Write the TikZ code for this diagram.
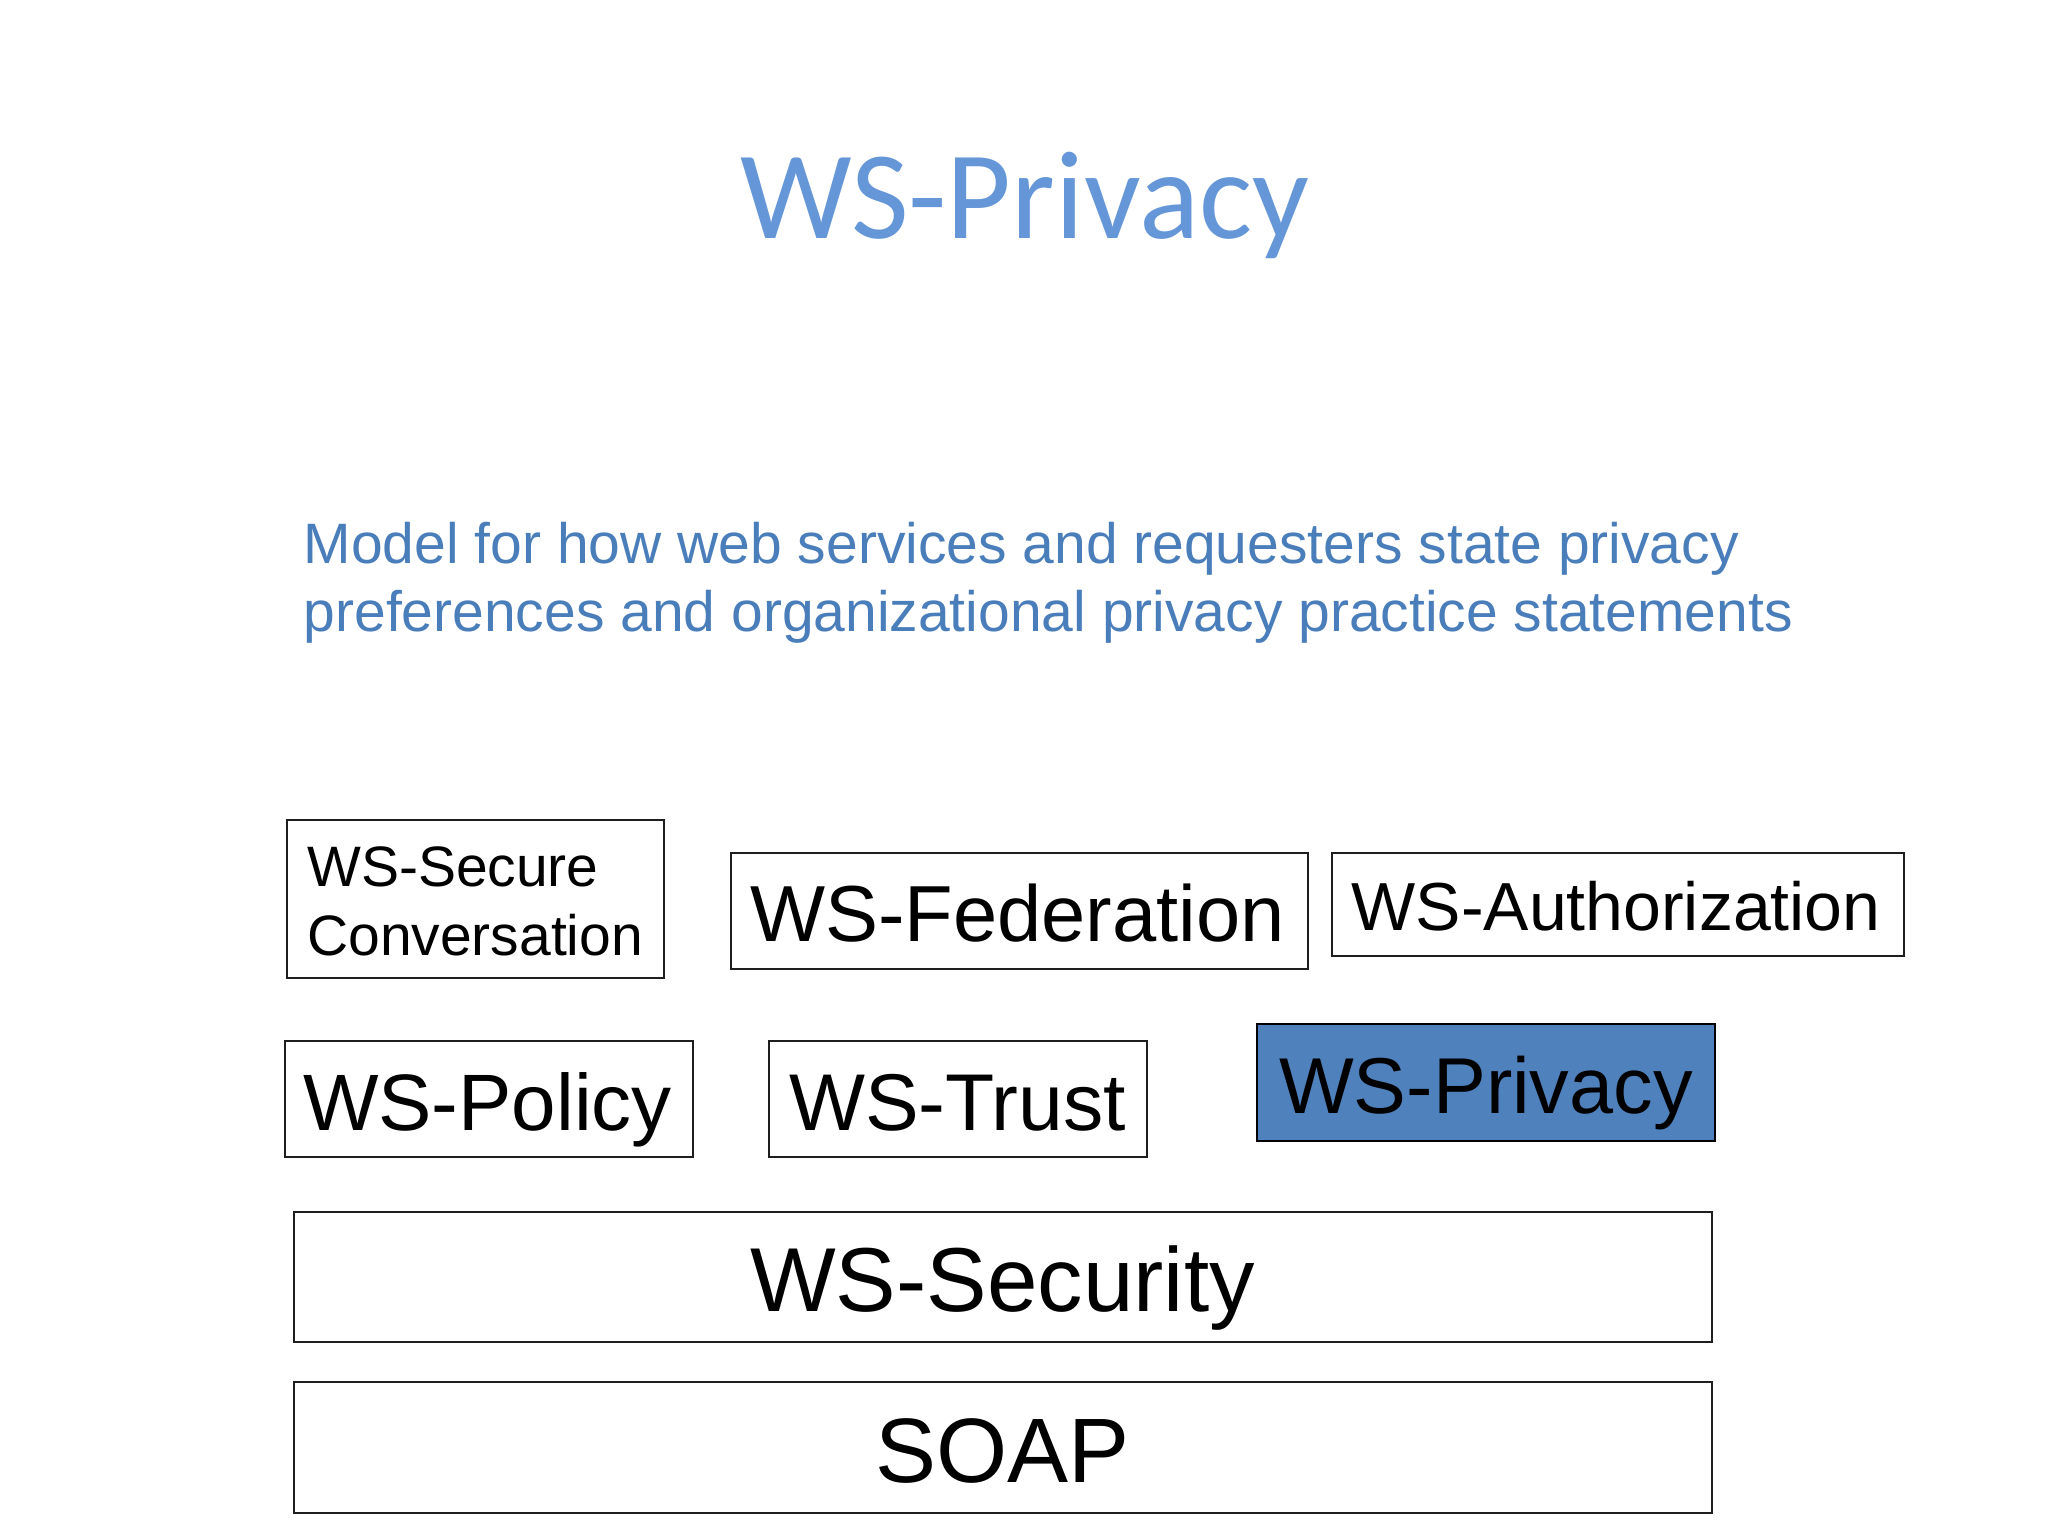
\documentclass[tikz,border=0pt]{standalone}
\usepackage{fontspec}
\setmainfont{Liberation Sans}
\newfontfamily\titlefont{Carlito}
\definecolor{titleblue}{RGB}{100,150,216}
\definecolor{subblue}{RGB}{74,126,187}
\definecolor{boxblue}{RGB}{79,129,189}
\definecolor{edge}{RGB}{30,30,30}
\tikzset{
  layerbox/.style={draw=edge, line width=2pt, rectangle, inner sep=0pt, anchor=north west},
  lbl/.style={inner sep=0pt, anchor=base, text=black},
  fs/.style={font=\fontsize{#1}{#1}\selectfont},
}
\begin{document}
\begin{tikzpicture}[x=1pt,y=-1pt]
\useasboundingbox[fill=white] (0,0) rectangle (2048,1536);
% title
\node[inner sep=0pt, anchor=base, text=titleblue, font=\titlefont\fontsize{125.5}{125.5}\selectfont] (title) at (1024.5,238) {WS-Privacy};
% subtitle
\node[inner sep=0pt, anchor=base west, text=subblue, fs=57] (sub1) at (303.5,563.3) {Model for how web services and requesters state privacy};
\node[inner sep=0pt, anchor=base west, text=subblue, fs=57] (sub2) at (303.5,631.7) {preferences and organizational privacy practice statements};
% boxes
\node[layerbox, minimum width=377pt, minimum height=158pt] (secbox) at (286,819) {};
\node[layerbox, minimum width=577pt, minimum height=116pt] (fedbox) at (730,852) {};
\node[layerbox, minimum width=572pt, minimum height=103pt] (authbox) at (1331,852) {};
\node[layerbox, minimum width=408pt, minimum height=116pt] (polbox) at (284,1040) {};
\node[layerbox, minimum width=378pt, minimum height=116pt] (trustbox) at (768,1040) {};
\node[layerbox, draw=black, fill=boxblue, minimum width=458pt, minimum height=117pt] (privbox) at (1256,1023) {};
\node[layerbox, minimum width=1418pt, minimum height=130pt] (secubox) at (293,1211) {};
\node[layerbox, minimum width=1418pt, minimum height=131pt] (soapbox) at (293,1381) {};
% labels
\node[lbl, anchor=base west, fs=57] (seca) at (307,886) {WS-Secure};
\node[lbl, anchor=base west, fs=57] (secb) at (307,955) {Conversation};
\node[lbl, fs=79.5] (fed) at (1017.5,941.7) {WS-Federation};
\node[lbl, fs=68] (auth) at (1616,930) {WS-Authorization};
\node[lbl, fs=80] (pol) at (487.5,1130) {WS-Policy};
\node[lbl, fs=80.5] (trust) at (957.5,1130) {WS-Trust};
\node[lbl, fs=79.2] (priv) at (1486,1113.3) {WS-Privacy};
\node[lbl, fs=90.8] (secu) at (1002.5,1311.7) {WS-Security};
\node[lbl, fs=91.5] (soap) at (1002.5,1482.7) {SOAP};
\end{tikzpicture}
\end{document}
